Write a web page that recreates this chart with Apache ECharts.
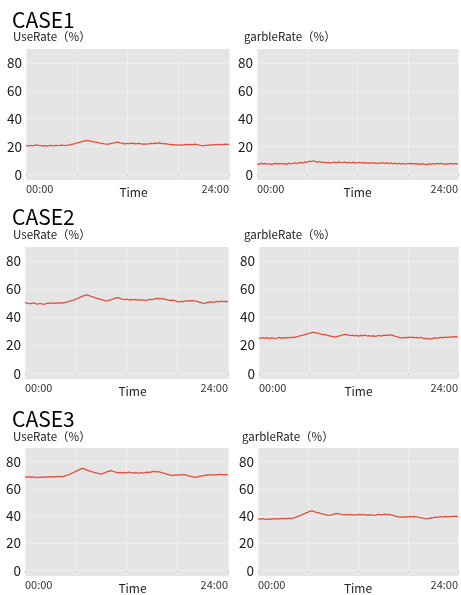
<!DOCTYPE html>
<html><head><meta charset="utf-8">
<script src="https://cdn.jsdelivr.net/npm/echarts@6/dist/echarts.min.js"></script>
<style>html,body{margin:0;padding:0;background:#fff}#c{width:461px;height:595px}</style>
</head><body><div id="c"></div>
<script>
// ---- data ----
const caseTitles = ['CASE1', 'CASE2', 'CASE3'];
const panelTitles = ['UseRate（%）', 'garbleRate（%）'];
const yTicks = [0, 20, 40, 60, 80];
const xTickLabels = { 0: '00:00', 24: '24:00' };
const xName = 'Time';
const sampleStepHours = 0.25; // one value every 15 minutes, 00:00 .. 24:00

const case1UseRate = [20.7,
  20.5, 20.8, 20.4, 20.9,
  21.2, 20.8, 20.6, 20.4,
  20.7, 20.3, 20.6, 20.8,
  20.5, 20.9, 20.6, 20.8,
  21.1, 20.7, 20.9, 21.0,
  21.3, 21.7, 22.0, 22.6,
  22.9, 23.4, 23.8, 24.2,
  24.5, 24.1, 23.8, 23.4,
  23.1, 22.8, 22.5, 22.2,
  21.9, 21.7, 21.8, 22.1,
  22.4, 22.7, 23.1, 22.8,
  22.4, 22.2, 22.0, 22.3,
  22.1, 22.4, 22.2, 22.0,
  22.3, 22.1, 21.8, 21.9,
  21.7, 22.0, 22.3, 22.1,
  22.4, 22.2, 22.6, 22.3,
  22.0, 22.1, 21.7, 21.5,
  21.3, 21.4, 21.1, 21.0,
  21.2, 21.0, 21.4, 21.5,
  21.3, 21.6, 21.4, 21.7,
  21.3, 21.0, 20.7, 20.5,
  20.8, 20.9, 21.2, 21.0,
  21.3, 21.5, 21.2, 21.6,
  21.4, 21.7, 21.5, 21.6];

const case1GarbleRate = [7.6,
  7.2, 8.1, 7.4, 7.9,
  7.3, 7.8, 7.0, 7.7,
  8.0, 7.4, 7.9, 7.5,
  7.8, 7.2, 8.2, 7.6,
  7.9, 8.3, 7.7, 8.4,
  8.6, 8.2, 9.0, 8.7,
  9.5, 9.1, 9.8, 9.2,
  8.9, 9.3, 8.6, 8.9,
  8.3, 8.7, 8.1, 8.5,
  8.8, 8.3, 9.0, 8.6,
  8.4, 8.9, 8.2, 8.6,
  8.3, 8.8, 8.1, 8.5,
  8.7, 8.2, 8.6, 8.0,
  8.4, 7.9, 8.5, 8.2,
  7.8, 8.3, 7.9, 8.4,
  8.0, 8.5, 7.8, 8.2,
  7.6, 8.1, 7.5, 7.9,
  7.4, 7.9, 7.3, 7.8,
  8.0, 7.5, 7.9, 7.3,
  7.7, 7.2, 7.8, 7.4,
  7.1, 7.6, 7.3, 7.8,
  7.4, 7.9, 7.5, 8.0,
  7.6, 7.2, 7.8, 7.5,
  7.9, 7.4, 7.7, 7.6];

const case2UseRate = [50.5,
  50.0, 49.6, 49.8, 50.2,
  49.7, 49.4, 49.9, 49.5,
  49.2, 49.7, 50.1, 49.8,
  50.3, 49.9, 50.2, 50.0,
  50.4, 50.1, 50.6, 50.9,
  51.3, 51.8, 52.2, 52.9,
  53.5, 54.1, 54.8, 55.4,
  55.9, 55.5, 55.0, 54.4,
  53.9, 53.4, 53.0, 52.6,
  52.2, 51.8, 51.6, 52.1,
  52.6, 53.2, 53.7, 54.0,
  53.4, 52.9, 52.5, 52.8,
  52.3, 52.6, 52.4, 52.7,
  52.2, 52.5, 52.1, 52.4,
  52.0, 52.3, 52.7, 52.5,
  52.9, 53.2, 53.5, 53.1,
  53.4, 52.8, 52.5, 52.2,
  51.9, 52.1, 51.6, 51.2,
  51.0, 51.3, 51.1, 51.6,
  51.8, 51.5, 51.9, 51.6,
  51.4, 51.0, 50.6, 50.1,
  49.9, 50.4, 50.7, 50.9,
  50.6, 51.0, 51.3, 51.0,
  51.4, 51.1, 51.3, 51.2];

const case2GarbleRate = [25.3,
  24.9, 25.5, 25.0, 25.4,
  24.8, 25.3, 25.1, 24.7,
  25.2, 25.6, 25.0, 25.4,
  25.1, 25.7, 25.3, 25.8,
  25.4, 26.0, 26.4, 26.9,
  27.1, 27.6, 28.0, 28.5,
  28.9, 29.3, 28.8, 28.9,
  28.3, 28.0, 27.6, 27.7,
  27.1, 26.8, 26.4, 26.2,
  25.9, 26.4, 26.8, 27.3,
  27.6, 27.8, 27.2, 26.9,
  27.2, 26.7, 27.0, 26.6,
  27.1, 26.8, 27.2, 26.7,
  26.9, 26.5, 26.8, 26.4,
  26.7, 27.0, 26.6, 27.1,
  27.3, 27.0, 27.5, 27.2,
  26.8, 26.3, 25.9, 25.5,
  25.2, 25.6, 25.3, 25.8,
  25.5, 25.9, 25.4, 25.7,
  25.3, 25.6, 25.1, 24.8,
  25.0, 24.6, 24.5, 24.9,
  25.3, 25.0, 25.5, 25.7,
  25.4, 25.9, 25.6, 26.0,
  25.8, 26.1, 25.9, 26.0];

const case3UseRate = [69.0,
  68.6, 68.9, 68.4, 68.8,
  68.5, 68.2, 68.7, 68.4,
  68.8, 68.5, 69.0, 68.7,
  68.9, 68.6, 69.1, 68.8,
  69.2, 69.0, 69.5, 70.0,
  70.6, 71.3, 72.0, 72.8,
  73.6, 74.3, 75.0, 74.6,
  74.0, 73.4, 72.9, 72.4,
  72.0, 71.6, 71.2, 70.9,
  71.4, 71.9, 72.6, 73.1,
  73.3, 72.7, 72.2, 71.8,
  72.1, 71.7, 72.0, 71.8,
  72.2, 71.9, 71.6, 72.0,
  71.7, 71.5, 71.9, 71.6,
  72.0, 72.3, 72.1, 72.5,
  72.8, 72.5, 72.7, 72.2,
  71.8, 71.3, 70.9, 70.5,
  70.1, 69.8, 70.2, 70.0,
  70.4, 70.1, 70.5, 70.2,
  69.8, 69.4, 69.0, 68.7,
  68.5, 68.9, 69.3, 69.6,
  69.9, 70.2, 70.0, 70.4,
  70.1, 70.5, 70.3, 70.6,
  70.4, 70.2, 70.5, 70.4];

const case3GarbleRate = [38.0,
  37.7, 38.2, 37.8, 37.5,
  37.9, 37.6, 38.1, 37.8,
  38.2, 37.9, 38.4, 38.0,
  38.3, 38.1, 38.5, 38.2,
  38.6, 39.1, 39.6, 40.3,
  40.9, 41.6, 42.3, 42.9,
  43.6, 43.9, 43.3, 42.8,
  42.5, 42.0, 41.6, 41.2,
  40.8, 40.5, 40.7, 41.2,
  41.6, 42.0, 41.7, 41.3,
  41.0, 41.3, 40.9, 41.2,
  40.8, 41.1, 40.7, 41.0,
  41.3, 40.9, 41.2, 40.8,
  40.6, 41.0, 40.7, 40.5,
  40.9, 41.2, 40.8, 41.1,
  41.4, 41.1, 41.3, 40.7,
  40.3, 39.9, 39.6, 39.3,
  39.5, 39.2, 39.6, 39.3,
  39.7, 39.4, 39.8, 39.5,
  39.2, 38.8, 38.5, 38.2,
  38.0, 38.3, 38.6, 38.9,
  39.2, 39.0, 39.4, 39.6,
  39.3, 39.7, 39.5, 39.8,
  39.6, 39.9, 39.7, 39.8];

// ---- layout / style ----
const F = '"Noto Sans CJK JP", "Noto Sans", sans-serif';
const LINE_COLOR = '#e4503b';
const PANEL_BG = '#e5e5e5';
const GRID_LINE = '#eeeeee';

const panelSeries = [
  case1UseRate, case1GarbleRate,
  case2UseRate, case2GarbleRate,
  case3UseRate, case3GarbleRate
];
const gridBoxes = [
  { left: 26, top: 49, width: 203, height: 131 },
  { left: 257, top: 49, width: 203, height: 131 },
  { left: 25, top: 247, width: 203, height: 132 },
  { left: 259, top: 247, width: 201, height: 132 },
  { left: 25, top: 448, width: 203, height: 132 },
  { left: 258, top: 448, width: 203, height: 132 }
];
const caseTitleTops = [10, 207, 409];
const subTitlePos = [
  { left: 13, top: 31 }, { left: 244, top: 31 },
  { left: 13, top: 229 }, { left: 244, top: 229 },
  { left: 13, top: 431 }, { left: 242, top: 431 }
];

const option = {
  animation: false,
  backgroundColor: '#fff',
  title: [],
  grid: [], xAxis: [], yAxis: [], series: []
};

caseTitles.forEach((t, r) => {
  option.title.push({
    text: t, left: 12, top: caseTitleTops[r], padding: 0,
    textStyle: { fontFamily: F, fontSize: 21, fontWeight: 'normal', color: '#000' }
  });
});

gridBoxes.forEach((g, i) => {
  const isLeft = i % 2 === 0;
  option.title.push({
    text: panelTitles[i % 2], left: subTitlePos[i].left, top: subTitlePos[i].top, padding: 0,
    textStyle: { fontFamily: F, fontSize: 11.5, fontWeight: 'normal', color: '#222' }
  });
  option.grid.push(Object.assign({
    show: true, backgroundColor: PANEL_BG, borderWidth: 0, containLabel: false
  }, g));
  option.xAxis.push({
    type: 'value', gridIndex: i, min: 0, max: 24, interval: 6,
    axisLine: { show: false },
    axisTick: { show: true, length: 2, lineStyle: { color: '#c4c4c4' } },
    splitLine: { show: true, lineStyle: { color: GRID_LINE, width: 1 } },
    axisLabel: {
      margin: 3, fontSize: 11, color: '#333', fontFamily: F,
      showMinLabel: true, showMaxLabel: true,
      alignMinLabel: 'left', alignMaxLabel: 'right',
      formatter: v => (xTickLabels[v] !== undefined ? xTickLabels[v] : '')
    },
    name: xName, nameLocation: 'middle', nameGap: 6, nameMoveOverlap: false,
    nameTextStyle: {
      fontFamily: F, fontSize: 12, color: '#222',
      padding: isLeft ? [0, 0, 0, 12] : [0, 0, 0, 0]
    }
  });
  option.yAxis.push({
    type: 'value', gridIndex: i, min: -4, max: 90,
    axisLine: { show: false },
    axisTick: { show: false, customValues: yTicks },
    splitLine: { show: true, lineStyle: { color: GRID_LINE, width: 1 } },
    axisLabel: { customValues: yTicks, margin: 4, fontSize: 13.5, color: '#1a1a1a', fontFamily: F }
  });
  option.series.push({
    type: 'line', xAxisIndex: i, yAxisIndex: i,
    showSymbol: false, symbol: 'none', smooth: false,
    lineStyle: { color: LINE_COLOR, width: 1.3 },
    data: panelSeries[i].map((v, k) => [k * sampleStepHours, v])
  });
});

const chart = echarts.init(document.getElementById('c'), null, { renderer: 'canvas' });
chart.setOption(option);
</script>
</body></html>
